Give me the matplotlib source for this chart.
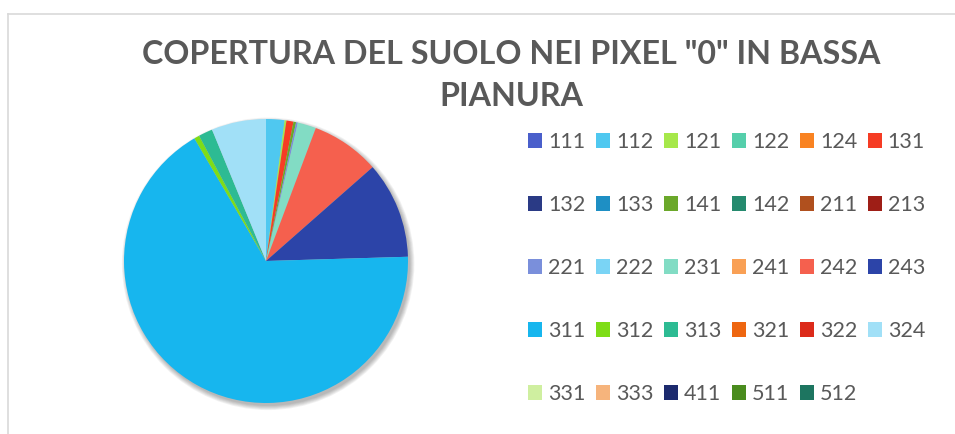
import numpy as np
import matplotlib.pyplot as plt
from matplotlib.patches import Circle

plt.rcParams['font.family'] = ['Lato', 'DejaVu Sans']

# land cover classes and their shares (%)
codes = ['111', '112', '121', '122', '124', '131',
         '132', '133', '141', '142', '211', '213',
         '221', '222', '231', '241', '242', '243',
         '311', '312', '313', '321', '322', '324',
         '331', '333', '411', '511', '512']
shares = [0.0, 2.1, 0.2, 0.0, 0.0, 0.8,
          0.0, 0.0, 0.3, 0.0, 0.0, 0.0,
          0.2, 0.0, 2.1, 0.0, 7.8, 11.0,
          67.0, 0.6, 1.6, 0.0, 0.0, 6.2,
          0.0, 0.0, 0.0, 0.0, 0.0]
colors = ['#4A5FCB', '#4FC8F0', '#A6E84A', '#55CFAB', '#F98322', '#F63C24',
          '#2A3A85', '#1E8FC4', '#6BA82A', '#258A6E', '#B0501E', '#9E1E16',
          '#7A8FDB', '#7AD4F5', '#82DCC4', '#F9A055', '#F5604E', '#2C44A8',
          '#17B6EE', '#7EDD17', '#2DBB93', '#EE6610', '#DC2A1A', '#A1E0F7',
          '#CFEFA0', '#F6B47C', '#1C2A6E', '#4A8C1E', '#1D7560']

W, H = 955, 434
fig = plt.figure(figsize=(W / 100, H / 100), dpi=100)

# chart frame (top and left edges visible)
fig.add_artist(plt.Line2D([8 / W, 1], [1 - 13.5 / H] * 2, color='#D9D9D9', lw=1.2))
fig.add_artist(plt.Line2D([8 / W] * 2, [0, 1 - 13.5 / H], color='#D9D9D9', lw=1.2))

cx, cy, r = 266, 261, 142
ax = fig.add_axes([(cx - r) / W, (H - cy - r) / H, 2 * r / W, 2 * r / H])

# soft shadow
for k in range(6):
    ax.add_patch(Circle((0.015, -0.02), 1.0 + 0.006 * k, color='black',
                        alpha=0.05, lw=0, zorder=0, clip_on=False))

wedges, _ = ax.pie(shares, colors=colors, startangle=90, counterclock=False,
                   radius=1.0, wedgeprops=dict(linewidth=0))
for w in wedges:
    w.set_clip_on(False)
ax.set_xlim(-1.0, 1.0)
ax.set_ylim(-1.0, 1.0)
ax.set_aspect('equal')
ax.axis('off')

# legend filled row by row, 6 columns
order = [i * 6 + j for j in range(6) for i in range(5) if i * 6 + j < len(codes)]
fig.legend([wedges[i] for i in order], [codes[i] for i in order],
           ncol=6, loc='upper left', bbox_to_anchor=(528 / W, 1 - 132 / H),
           frameon=False, fontsize=15.5, labelcolor='#595959',
           handlelength=0.65, handleheight=0.65, handletextpad=0.28,
           columnspacing=0.49, labelspacing=2.0, borderpad=0, borderaxespad=0)

fig.text(511 / W, 1 - 54 / H, 'COPERTURA DEL SUOLO NEI PIXEL "0" IN BASSA',
         ha='center', va='center', fontsize=23.2, fontweight='bold', color='#595959')
fig.text(511 / W, 1 - 97 / H, 'PIANURA',
         ha='center', va='center', fontsize=23.2, fontweight='bold', color='#595959')

fig.savefig('out.png', dpi=100)
